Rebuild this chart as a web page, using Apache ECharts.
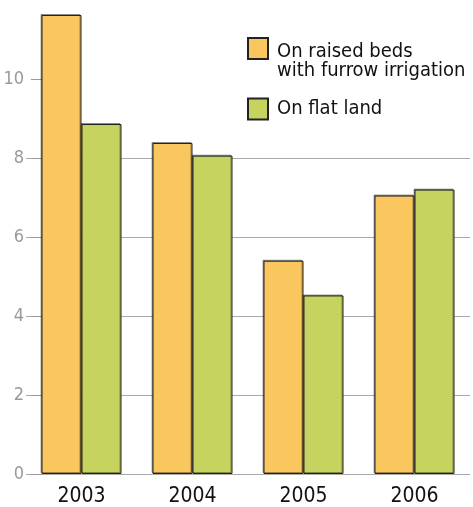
<!DOCTYPE html>
<html>
<head>
<meta charset="utf-8">
<script src="https://cdn.jsdelivr.net/npm/echarts@6/dist/echarts.min.js"></script>
<style>
  html, body { margin: 0; padding: 0; background: #fff; }
  #chart { width: 473px; height: 507px; }
</style>
</head>
<body>
<div id="chart"></div>
<script>
// data
const years = ['2003', '2004', '2005', '2006']
const raisedBeds = [11.62, 8.38, 5.40, 7.05]
const flatLand = [8.86, 8.06, 4.52, 7.20]
const yTicks = [0, 2, 4, 6, 8, 10]

const nameRaised = 'On raised beds\nwith furrow irrigation'
const nameFlat = 'On flat land'

const font = '"DejaVu Sans Condensed", "DejaVu Sans", sans-serif'

const chart = echarts.init(document.getElementById('chart'))

const option = {
  animation: false,
  grid: { left: 26, right: 3, top: 0, bottom: 32 },
  legend: {
    orient: 'vertical',
    left: 247,
    top: 17,
    padding: 0,
    itemWidth: 20,
    itemHeight: 21,
    itemGap: 17,
    icon: 'rect',
    selectedMode: false,
    data: [nameRaised, nameFlat],
    // taller blank first line keeps the swatch level with the first text line
    formatter: name => name === nameRaised ? '{s| }\n' + name : name,
    textStyle: {
      fontFamily: font, fontSize: 20, color: '#111', lineHeight: 19, padding: [0, 0, 0, 4],
      rich: { s: { lineHeight: 25, fontSize: 10 } }
    }
  },
  xAxis: {
    type: 'category',
    data: years,
    axisLine: { show: false },
    axisTick: { show: false },
    axisLabel: { fontFamily: font, fontSize: 21, color: '#111', margin: 12 }
  },
  yAxis: {
    type: 'value',
    min: 0,
    max: 12,
    interval: 2,
    offset: -16,
    axisLine: { show: true, lineStyle: { color: 'rgba(0,0,0,0)' } },
    axisTick: { show: true, length: 11, customValues: yTicks, lineStyle: { color: '#999', width: 1 } },
    axisLabel: { customValues: yTicks, fontFamily: font, fontSize: 18, color: '#999', margin: 18 },
    splitLine: { show: true, showMaxLine: false, lineStyle: { color: '#aaa', width: 1 } }
  },
  series: [
    {
      name: nameRaised,
      type: 'bar',
      data: raisedBeds,
      barWidth: 40,
      barGap: 0,
      itemStyle: {
        color: '#FAC65E', borderColor: '#222', borderWidth: 1,
        shadowColor: 'rgba(0,0,0,0.35)', shadowOffsetX: -1, shadowOffsetY: -1, shadowBlur: 0
      }
    },
    {
      name: nameFlat,
      type: 'bar',
      data: flatLand,
      barWidth: 40,
      barGap: 0,
      itemStyle: {
        color: '#C6D35F', borderColor: '#222', borderWidth: 1,
        shadowColor: 'rgba(0,0,0,0.35)', shadowOffsetX: -1, shadowOffsetY: -1, shadowBlur: 0
      }
    }
  ]
}

chart.setOption(option)
</script>
</body>
</html>
